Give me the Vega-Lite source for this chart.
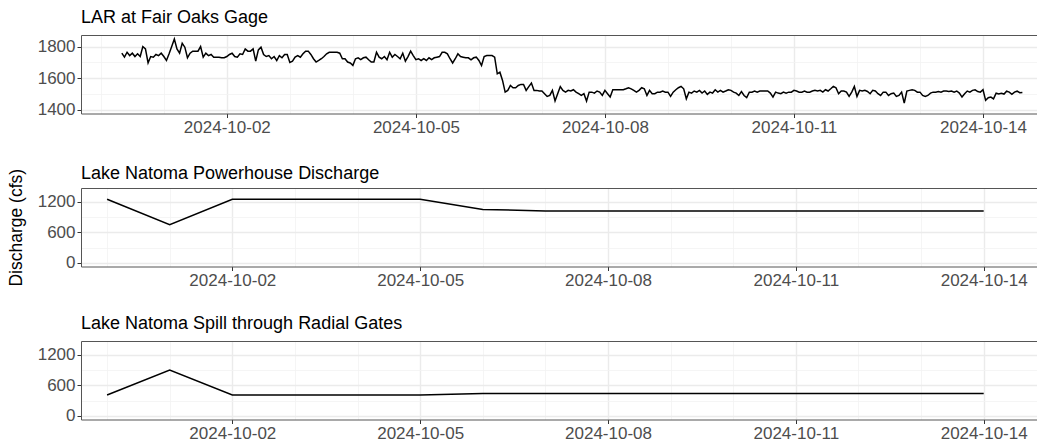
{
"$schema":"https://vega.github.io/schema/vega-lite/v6.json",
"background":"white",
"padding":{"left":7,"top":9,"right":0,"bottom":0},
"spacing":74,
"bounds":"flush",
"config":{
 "font":"Liberation Sans",
 "view":{"stroke":null},
 "axis":{"labelFont":"Liberation Sans","labelFontSize":17,"labelColor":"#4D4D4D","tickColor":"#333333","tickSize":4,"domainColor":"#555555","gridColor":"#EBEBEB","titleFont":"Liberation Sans","titleFontWeight":"normal","titleFontSize":17.5,"titleColor":"black","labelFlush":false,"labelOverlap":false},
 "title":{"anchor":"start","frame":"group","fontSize":18,"fontWeight":"normal","color":"black","font":"Liberation Sans","offset":8}
},
"datasets":{
"gage":[
{"t":"2024-09-30T08:00","v":1758},{"t":"2024-09-30T09:00","v":1733},{"t":"2024-09-30T10:00","v":1764},{"t":"2024-09-30T11:00","v":1743},{"t":"2024-09-30T12:00","v":1758},{"t":"2024-09-30T13:00","v":1737},{"t":"2024-09-30T14:00","v":1754},{"t":"2024-09-30T15:00","v":1737},{"t":"2024-09-30T16:00","v":1800},{"t":"2024-09-30T17:00","v":1785},{"t":"2024-09-30T18:00","v":1697},{"t":"2024-09-30T19:00","v":1737},{"t":"2024-09-30T20:00","v":1733},{"t":"2024-09-30T21:00","v":1750},{"t":"2024-09-30T22:00","v":1743},{"t":"2024-09-30T23:00","v":1758},
{"t":"2024-10-01T00:00","v":1737},{"t":"2024-10-01T01:00","v":1712},{"t":"2024-10-01T02:00","v":1754},{"t":"2024-10-01T03:00","v":1800},{"t":"2024-10-01T04:00","v":1848},{"t":"2024-10-01T05:00","v":1785},{"t":"2024-10-01T06:00","v":1758},{"t":"2024-10-01T07:00","v":1821},{"t":"2024-10-01T08:00","v":1796},{"t":"2024-10-01T09:00","v":1729},{"t":"2024-10-01T10:00","v":1758},{"t":"2024-10-01T11:00","v":1771},{"t":"2024-10-01T12:00","v":1771},{"t":"2024-10-01T13:00","v":1771},{"t":"2024-10-01T14:00","v":1800},{"t":"2024-10-01T15:00","v":1733},{"t":"2024-10-01T16:00","v":1758},{"t":"2024-10-01T17:00","v":1743},{"t":"2024-10-01T18:00","v":1750},{"t":"2024-10-01T19:00","v":1733},{"t":"2024-10-01T20:00","v":1733},{"t":"2024-10-01T21:00","v":1733},{"t":"2024-10-01T22:00","v":1729},{"t":"2024-10-01T23:00","v":1729},
{"t":"2024-10-02T00:00","v":1737},{"t":"2024-10-02T01:00","v":1750},{"t":"2024-10-02T02:00","v":1758},{"t":"2024-10-02T03:00","v":1737},{"t":"2024-10-02T04:00","v":1733},{"t":"2024-10-02T05:00","v":1754},{"t":"2024-10-02T06:00","v":1750},{"t":"2024-10-02T07:00","v":1785},{"t":"2024-10-02T08:00","v":1771},{"t":"2024-10-02T09:00","v":1771},{"t":"2024-10-02T10:00","v":1785},{"t":"2024-10-02T11:00","v":1708},{"t":"2024-10-02T12:00","v":1779},{"t":"2024-10-02T13:00","v":1796},{"t":"2024-10-02T14:00","v":1750},{"t":"2024-10-02T15:00","v":1737},{"t":"2024-10-02T16:00","v":1743},{"t":"2024-10-02T17:00","v":1723},{"t":"2024-10-02T18:00","v":1737},{"t":"2024-10-02T19:00","v":1712},{"t":"2024-10-02T20:00","v":1743},{"t":"2024-10-02T21:00","v":1729},{"t":"2024-10-02T22:00","v":1750},{"t":"2024-10-02T23:00","v":1750},
{"t":"2024-10-03T00:00","v":1700},{"t":"2024-10-03T01:00","v":1708},{"t":"2024-10-03T02:00","v":1733},{"t":"2024-10-03T03:00","v":1743},{"t":"2024-10-03T04:00","v":1733},{"t":"2024-10-03T05:00","v":1754},{"t":"2024-10-03T06:00","v":1771},{"t":"2024-10-03T07:00","v":1771},{"t":"2024-10-03T08:00","v":1750},{"t":"2024-10-03T09:00","v":1723},{"t":"2024-10-03T10:00","v":1702},{"t":"2024-10-03T11:00","v":1712},{"t":"2024-10-03T12:00","v":1723},{"t":"2024-10-03T13:00","v":1737},{"t":"2024-10-03T14:00","v":1754},{"t":"2024-10-03T15:00","v":1764},{"t":"2024-10-03T16:00","v":1764},{"t":"2024-10-03T17:00","v":1764},{"t":"2024-10-03T18:00","v":1764},{"t":"2024-10-03T19:00","v":1758},{"t":"2024-10-03T20:00","v":1723},{"t":"2024-10-03T21:00","v":1723},{"t":"2024-10-03T22:00","v":1702},{"t":"2024-10-03T23:00","v":1696},
{"t":"2024-10-04T00:00","v":1681},{"t":"2024-10-04T01:00","v":1723},{"t":"2024-10-04T02:00","v":1729},{"t":"2024-10-04T03:00","v":1717},{"t":"2024-10-04T04:00","v":1729},{"t":"2024-10-04T05:00","v":1733},{"t":"2024-10-04T06:00","v":1717},{"t":"2024-10-04T07:00","v":1702},{"t":"2024-10-04T08:00","v":1702},{"t":"2024-10-04T09:00","v":1764},{"t":"2024-10-04T10:00","v":1733},{"t":"2024-10-04T11:00","v":1723},{"t":"2024-10-04T12:00","v":1737},{"t":"2024-10-04T13:00","v":1717},{"t":"2024-10-04T14:00","v":1764},{"t":"2024-10-04T15:00","v":1733},{"t":"2024-10-04T16:00","v":1750},{"t":"2024-10-04T17:00","v":1737},{"t":"2024-10-04T18:00","v":1723},{"t":"2024-10-04T19:00","v":1758},{"t":"2024-10-04T20:00","v":1708},{"t":"2024-10-04T21:00","v":1737},{"t":"2024-10-04T22:00","v":1771},{"t":"2024-10-04T23:00","v":1743},
{"t":"2024-10-05T00:00","v":1717},{"t":"2024-10-05T01:00","v":1723},{"t":"2024-10-05T02:00","v":1712},{"t":"2024-10-05T03:00","v":1723},{"t":"2024-10-05T04:00","v":1712},{"t":"2024-10-05T05:00","v":1729},{"t":"2024-10-05T06:00","v":1717},{"t":"2024-10-05T07:00","v":1729},{"t":"2024-10-05T08:00","v":1733},{"t":"2024-10-05T09:00","v":1737},{"t":"2024-10-05T10:00","v":1764},{"t":"2024-10-05T11:00","v":1764},{"t":"2024-10-05T12:00","v":1754},{"t":"2024-10-05T13:00","v":1723},{"t":"2024-10-05T14:00","v":1696},{"t":"2024-10-05T15:00","v":1723},{"t":"2024-10-05T16:00","v":1754},{"t":"2024-10-05T17:00","v":1737},{"t":"2024-10-05T18:00","v":1733},{"t":"2024-10-05T19:00","v":1729},{"t":"2024-10-05T20:00","v":1729},{"t":"2024-10-05T21:00","v":1716},{"t":"2024-10-05T22:00","v":1729},{"t":"2024-10-05T23:00","v":1733},
{"t":"2024-10-06T00:00","v":1712},{"t":"2024-10-06T01:00","v":1680},{"t":"2024-10-06T02:00","v":1737},{"t":"2024-10-06T03:00","v":1743},{"t":"2024-10-06T04:00","v":1743},{"t":"2024-10-06T05:00","v":1743},{"t":"2024-10-06T06:00","v":1733},{"t":"2024-10-06T07:00","v":1628},{"t":"2024-10-06T08:00","v":1638},{"t":"2024-10-06T09:00","v":1586},{"t":"2024-10-06T10:00","v":1512},{"t":"2024-10-06T11:00","v":1523},{"t":"2024-10-06T12:00","v":1554},{"t":"2024-10-06T13:00","v":1540},{"t":"2024-10-06T14:00","v":1540},{"t":"2024-10-06T15:00","v":1554},{"t":"2024-10-06T16:00","v":1561},{"t":"2024-10-06T17:00","v":1561},{"t":"2024-10-06T18:00","v":1523},{"t":"2024-10-06T19:00","v":1547},{"t":"2024-10-06T20:00","v":1569},{"t":"2024-10-06T21:00","v":1523},{"t":"2024-10-06T22:00","v":1523},{"t":"2024-10-06T23:00","v":1519},
{"t":"2024-10-07T00:00","v":1519},{"t":"2024-10-07T01:00","v":1502},{"t":"2024-10-07T02:00","v":1485},{"t":"2024-10-07T03:00","v":1491},{"t":"2024-10-07T04:00","v":1523},{"t":"2024-10-07T05:00","v":1456},{"t":"2024-10-07T06:00","v":1502},{"t":"2024-10-07T07:00","v":1547},{"t":"2024-10-07T08:00","v":1523},{"t":"2024-10-07T09:00","v":1512},{"t":"2024-10-07T10:00","v":1523},{"t":"2024-10-07T11:00","v":1519},{"t":"2024-10-07T12:00","v":1527},{"t":"2024-10-07T13:00","v":1512},{"t":"2024-10-07T14:00","v":1502},{"t":"2024-10-07T15:00","v":1491},{"t":"2024-10-07T16:00","v":1502},{"t":"2024-10-07T17:00","v":1456},{"t":"2024-10-07T18:00","v":1512},{"t":"2024-10-07T19:00","v":1512},{"t":"2024-10-07T20:00","v":1506},{"t":"2024-10-07T21:00","v":1519},{"t":"2024-10-07T22:00","v":1512},{"t":"2024-10-07T23:00","v":1491},
{"t":"2024-10-08T00:00","v":1523},{"t":"2024-10-08T01:00","v":1502},{"t":"2024-10-08T02:00","v":1481},{"t":"2024-10-08T03:00","v":1527},{"t":"2024-10-08T04:00","v":1527},{"t":"2024-10-08T05:00","v":1527},{"t":"2024-10-08T06:00","v":1527},{"t":"2024-10-08T07:00","v":1527},{"t":"2024-10-08T08:00","v":1533},{"t":"2024-10-08T09:00","v":1540},{"t":"2024-10-08T10:00","v":1533},{"t":"2024-10-08T11:00","v":1523},{"t":"2024-10-08T12:00","v":1512},{"t":"2024-10-08T13:00","v":1523},{"t":"2024-10-08T14:00","v":1540},{"t":"2024-10-08T15:00","v":1533},{"t":"2024-10-08T16:00","v":1491},{"t":"2024-10-08T17:00","v":1523},{"t":"2024-10-08T18:00","v":1502},{"t":"2024-10-08T19:00","v":1502},{"t":"2024-10-08T20:00","v":1512},{"t":"2024-10-08T21:00","v":1512},{"t":"2024-10-08T22:00","v":1519},{"t":"2024-10-08T23:00","v":1512},
{"t":"2024-10-09T00:00","v":1512},{"t":"2024-10-09T01:00","v":1485},{"t":"2024-10-09T02:00","v":1512},{"t":"2024-10-09T03:00","v":1527},{"t":"2024-10-09T04:00","v":1540},{"t":"2024-10-09T05:00","v":1548},{"t":"2024-10-09T06:00","v":1533},{"t":"2024-10-09T07:00","v":1470},{"t":"2024-10-09T08:00","v":1512},{"t":"2024-10-09T09:00","v":1506},{"t":"2024-10-09T10:00","v":1519},{"t":"2024-10-09T11:00","v":1512},{"t":"2024-10-09T12:00","v":1523},{"t":"2024-10-09T13:00","v":1506},{"t":"2024-10-09T14:00","v":1519},{"t":"2024-10-09T15:00","v":1498},{"t":"2024-10-09T16:00","v":1512},{"t":"2024-10-09T17:00","v":1506},{"t":"2024-10-09T18:00","v":1527},{"t":"2024-10-09T19:00","v":1512},{"t":"2024-10-09T20:00","v":1523},{"t":"2024-10-09T21:00","v":1512},{"t":"2024-10-09T22:00","v":1519},{"t":"2024-10-09T23:00","v":1527},
{"t":"2024-10-10T00:00","v":1523},{"t":"2024-10-10T01:00","v":1512},{"t":"2024-10-10T02:00","v":1506},{"t":"2024-10-10T03:00","v":1491},{"t":"2024-10-10T04:00","v":1516},{"t":"2024-10-10T05:00","v":1491},{"t":"2024-10-10T06:00","v":1477},{"t":"2024-10-10T07:00","v":1512},{"t":"2024-10-10T08:00","v":1512},{"t":"2024-10-10T09:00","v":1519},{"t":"2024-10-10T10:00","v":1512},{"t":"2024-10-10T11:00","v":1519},{"t":"2024-10-10T12:00","v":1519},{"t":"2024-10-10T13:00","v":1519},{"t":"2024-10-10T14:00","v":1519},{"t":"2024-10-10T15:00","v":1506},{"t":"2024-10-10T16:00","v":1481},{"t":"2024-10-10T17:00","v":1512},{"t":"2024-10-10T18:00","v":1506},{"t":"2024-10-10T19:00","v":1502},{"t":"2024-10-10T20:00","v":1512},{"t":"2024-10-10T21:00","v":1506},{"t":"2024-10-10T22:00","v":1512},{"t":"2024-10-10T23:00","v":1512},
{"t":"2024-10-11T00:00","v":1523},{"t":"2024-10-11T01:00","v":1519},{"t":"2024-10-11T02:00","v":1512},{"t":"2024-10-11T03:00","v":1512},{"t":"2024-10-11T04:00","v":1519},{"t":"2024-10-11T05:00","v":1512},{"t":"2024-10-11T06:00","v":1512},{"t":"2024-10-11T07:00","v":1519},{"t":"2024-10-11T08:00","v":1523},{"t":"2024-10-11T09:00","v":1519},{"t":"2024-10-11T10:00","v":1523},{"t":"2024-10-11T11:00","v":1512},{"t":"2024-10-11T12:00","v":1527},{"t":"2024-10-11T13:00","v":1519},{"t":"2024-10-11T14:00","v":1533},{"t":"2024-10-11T15:00","v":1548},{"t":"2024-10-11T16:00","v":1540},{"t":"2024-10-11T17:00","v":1502},{"t":"2024-10-11T18:00","v":1519},{"t":"2024-10-11T19:00","v":1519},{"t":"2024-10-11T20:00","v":1512},{"t":"2024-10-11T21:00","v":1485},{"t":"2024-10-11T22:00","v":1512},{"t":"2024-10-11T23:00","v":1548},
{"t":"2024-10-12T00:00","v":1485},{"t":"2024-10-12T01:00","v":1523},{"t":"2024-10-12T02:00","v":1519},{"t":"2024-10-12T03:00","v":1523},{"t":"2024-10-12T04:00","v":1516},{"t":"2024-10-12T05:00","v":1502},{"t":"2024-10-12T06:00","v":1523},{"t":"2024-10-12T07:00","v":1519},{"t":"2024-10-12T08:00","v":1502},{"t":"2024-10-12T09:00","v":1491},{"t":"2024-10-12T10:00","v":1512},{"t":"2024-10-12T11:00","v":1512},{"t":"2024-10-12T12:00","v":1491},{"t":"2024-10-12T13:00","v":1502},{"t":"2024-10-12T14:00","v":1506},{"t":"2024-10-12T15:00","v":1485},{"t":"2024-10-12T16:00","v":1491},{"t":"2024-10-12T17:00","v":1512},{"t":"2024-10-12T18:00","v":1443},{"t":"2024-10-12T19:00","v":1519},{"t":"2024-10-12T20:00","v":1523},{"t":"2024-10-12T21:00","v":1527},{"t":"2024-10-12T22:00","v":1523},{"t":"2024-10-12T23:00","v":1512},
{"t":"2024-10-13T00:00","v":1512},{"t":"2024-10-13T01:00","v":1491},{"t":"2024-10-13T02:00","v":1485},{"t":"2024-10-13T03:00","v":1491},{"t":"2024-10-13T04:00","v":1506},{"t":"2024-10-13T05:00","v":1512},{"t":"2024-10-13T06:00","v":1512},{"t":"2024-10-13T07:00","v":1516},{"t":"2024-10-13T08:00","v":1512},{"t":"2024-10-13T09:00","v":1519},{"t":"2024-10-13T10:00","v":1519},{"t":"2024-10-13T11:00","v":1516},{"t":"2024-10-13T12:00","v":1519},{"t":"2024-10-13T13:00","v":1512},{"t":"2024-10-13T14:00","v":1519},{"t":"2024-10-13T15:00","v":1506},{"t":"2024-10-13T16:00","v":1481},{"t":"2024-10-13T17:00","v":1502},{"t":"2024-10-13T18:00","v":1519},{"t":"2024-10-13T19:00","v":1512},{"t":"2024-10-13T20:00","v":1523},{"t":"2024-10-13T21:00","v":1527},{"t":"2024-10-13T22:00","v":1516},{"t":"2024-10-13T23:00","v":1512},
{"t":"2024-10-14T00:00","v":1527},{"t":"2024-10-14T01:00","v":1460},{"t":"2024-10-14T02:00","v":1477},{"t":"2024-10-14T03:00","v":1481},{"t":"2024-10-14T04:00","v":1470},{"t":"2024-10-14T05:00","v":1505},{"t":"2024-10-14T06:00","v":1500},{"t":"2024-10-14T07:00","v":1505},{"t":"2024-10-14T08:00","v":1500},{"t":"2024-10-14T09:00","v":1518},{"t":"2024-10-14T10:00","v":1512},{"t":"2024-10-14T11:00","v":1498},{"t":"2024-10-14T12:00","v":1512},{"t":"2024-10-14T13:00","v":1518},{"t":"2024-10-14T14:00","v":1508},{"t":"2024-10-14T15:00","v":1510}
],
"flows":[
{"d":"2024-09-30T00:00","s":"PH","v":1250},{"d":"2024-10-01T00:00","s":"PH","v":750},{"d":"2024-10-02T00:00","s":"PH","v":1250},{"d":"2024-10-03T00:00","s":"PH","v":1250},{"d":"2024-10-04T00:00","s":"PH","v":1250},{"d":"2024-10-05T00:00","s":"PH","v":1250},{"d":"2024-10-06T00:00","s":"PH","v":1050},{"d":"2024-10-07T00:00","s":"PH","v":1020},{"d":"2024-10-08T00:00","s":"PH","v":1020},{"d":"2024-10-09T00:00","s":"PH","v":1020},{"d":"2024-10-10T00:00","s":"PH","v":1020},{"d":"2024-10-11T00:00","s":"PH","v":1020},{"d":"2024-10-12T00:00","s":"PH","v":1020},{"d":"2024-10-13T00:00","s":"PH","v":1020},{"d":"2024-10-14T00:00","s":"PH","v":1020},
{"d":"2024-09-30T00:00","s":"SP","v":410},{"d":"2024-10-01T00:00","s":"SP","v":900},{"d":"2024-10-02T00:00","s":"SP","v":410},{"d":"2024-10-03T00:00","s":"SP","v":410},{"d":"2024-10-04T00:00","s":"SP","v":410},{"d":"2024-10-05T00:00","s":"SP","v":410},{"d":"2024-10-06T00:00","s":"SP","v":440},{"d":"2024-10-07T00:00","s":"SP","v":440},{"d":"2024-10-08T00:00","s":"SP","v":440},{"d":"2024-10-09T00:00","s":"SP","v":440},{"d":"2024-10-10T00:00","s":"SP","v":440},{"d":"2024-10-11T00:00","s":"SP","v":440},{"d":"2024-10-12T00:00","s":"SP","v":440},{"d":"2024-10-13T00:00","s":"SP","v":440},{"d":"2024-10-14T00:00","s":"SP","v":440}
]
},
"vconcat":[
{
 "width":956,"height":78.5,
 "title":{"text":"LAR at Fair Oaks Gage"},
 "data":{"name":"gage"},
 "layer":[
  {"mark":{"type":"line","opacity":0},
   "encoding":{
    "x":{"field":"t","type":"temporal","scale":{"domain":[{"year":2024,"month":9,"date":29,"hours":16,"minutes":27},{"year":2024,"month":10,"date":14,"hours":20,"minutes":34}]},
     "axis":{"orient":"top","values":[{"year":2024,"month":9,"date":30},{"year":2024,"month":10,"date":1},{"year":2024,"month":10,"date":3},{"year":2024,"month":10,"date":4},{"year":2024,"month":10,"date":6},{"year":2024,"month":10,"date":7},{"year":2024,"month":10,"date":9},{"year":2024,"month":10,"date":10},{"year":2024,"month":10,"date":12},{"year":2024,"month":10,"date":13}],"labels":false,"ticks":false,"domain":true,"grid":true,"gridColor":"#F3F3F3","gridWidth":0.8,"title":null}},
    "y":{"field":"v","type":"quantitative","scale":{"domain":[1377,1873],"nice":false,"zero":false},
     "axis":{"orient":"right","values":[1500,1700],"labels":false,"ticks":false,"domain":false,"grid":true,"gridColor":"#F3F3F3","gridWidth":0.8,"title":null}}
   }},
  {"mark":{"type":"line","color":"black","strokeWidth":1.5},
   "encoding":{
    "x":{"field":"t","type":"temporal","scale":{"domain":[{"year":2024,"month":9,"date":29,"hours":16,"minutes":27},{"year":2024,"month":10,"date":14,"hours":20,"minutes":34}]},
     "axis":{"orient":"bottom","values":[{"year":2024,"month":10,"date":2},{"year":2024,"month":10,"date":5},{"year":2024,"month":10,"date":8},{"year":2024,"month":10,"date":11},{"year":2024,"month":10,"date":14}],"format":"%Y-%m-%d","grid":true,"gridWidth":1.4,"title":null}},
    "y":{"field":"v","type":"quantitative","scale":{"domain":[1377,1873],"nice":false,"zero":false},
     "axis":{"orient":"left","values":[1400,1600,1800],"format":"d","grid":true,"gridWidth":1.4,"title":null}}
   }}
 ],
 "resolve":{"axis":{"x":"independent","y":"independent"}}
},
{
 "width":956,"height":78.5,
 "title":{"text":"Lake Natoma Powerhouse Discharge","dy":23},
 "data":{"name":"flows"},
 "transform":[{"filter":"datum.s === 'PH'"}],
 "layer":[
  {"mark":{"type":"line","opacity":0},
   "encoding":{
    "x":{"field":"d","type":"temporal","scale":{"domain":[{"year":2024,"month":9,"date":29,"hours":14},{"year":2024,"month":10,"date":14,"hours":20,"minutes":26}]},
     "axis":{"orient":"top","values":[{"year":2024,"month":9,"date":30},{"year":2024,"month":10,"date":1},{"year":2024,"month":10,"date":3},{"year":2024,"month":10,"date":4},{"year":2024,"month":10,"date":6},{"year":2024,"month":10,"date":7},{"year":2024,"month":10,"date":9},{"year":2024,"month":10,"date":10},{"year":2024,"month":10,"date":12},{"year":2024,"month":10,"date":13}],"labels":false,"ticks":false,"domain":true,"grid":true,"gridColor":"#F3F3F3","gridWidth":0.8,"title":null}},
    "y":{"field":"v","type":"quantitative","scale":{"domain":[-70,1470],"nice":false,"zero":false},
     "axis":{"orient":"right","values":[300,900],"labels":false,"ticks":false,"domain":false,"grid":true,"gridColor":"#F3F3F3","gridWidth":0.8,"title":null}}
   }},
  {"mark":{"type":"line","color":"black","strokeWidth":1.5},
   "encoding":{
    "x":{"field":"d","type":"temporal","scale":{"domain":[{"year":2024,"month":9,"date":29,"hours":14},{"year":2024,"month":10,"date":14,"hours":20,"minutes":26}]},
     "axis":{"orient":"bottom","values":[{"year":2024,"month":10,"date":2},{"year":2024,"month":10,"date":5},{"year":2024,"month":10,"date":8},{"year":2024,"month":10,"date":11},{"year":2024,"month":10,"date":14}],"format":"%Y-%m-%d","grid":true,"gridWidth":1.4,"title":null}},
    "y":{"field":"v","type":"quantitative","scale":{"domain":[-70,1470],"nice":false,"zero":false},
     "axis":{"orient":"left","values":[0,600,1200],"format":"d","grid":true,"gridWidth":1.4,"title":"Discharge (cfs)","titlePadding":12}}
   }}
 ],
 "resolve":{"axis":{"x":"independent","y":"independent"}}
},
{
 "width":956,"height":78.5,
 "title":{"text":"Lake Natoma Spill through Radial Gates"},
 "data":{"name":"flows"},
 "transform":[{"filter":"datum.s === 'SP'"}],
 "layer":[
  {"mark":{"type":"line","opacity":0},
   "encoding":{
    "x":{"field":"d","type":"temporal","scale":{"domain":[{"year":2024,"month":9,"date":29,"hours":14},{"year":2024,"month":10,"date":14,"hours":20,"minutes":26}]},
     "axis":{"orient":"top","values":[{"year":2024,"month":9,"date":30},{"year":2024,"month":10,"date":1},{"year":2024,"month":10,"date":3},{"year":2024,"month":10,"date":4},{"year":2024,"month":10,"date":6},{"year":2024,"month":10,"date":7},{"year":2024,"month":10,"date":9},{"year":2024,"month":10,"date":10},{"year":2024,"month":10,"date":12},{"year":2024,"month":10,"date":13}],"labels":false,"ticks":false,"domain":true,"grid":true,"gridColor":"#F3F3F3","gridWidth":0.8,"title":null}},
    "y":{"field":"v","type":"quantitative","scale":{"domain":[-70,1470],"nice":false,"zero":false},
     "axis":{"orient":"right","values":[300,900],"labels":false,"ticks":false,"domain":false,"grid":true,"gridColor":"#F3F3F3","gridWidth":0.8,"title":null}}
   }},
  {"mark":{"type":"line","color":"black","strokeWidth":1.5},
   "encoding":{
    "x":{"field":"d","type":"temporal","scale":{"domain":[{"year":2024,"month":9,"date":29,"hours":14},{"year":2024,"month":10,"date":14,"hours":20,"minutes":26}]},
     "axis":{"orient":"bottom","values":[{"year":2024,"month":10,"date":2},{"year":2024,"month":10,"date":5},{"year":2024,"month":10,"date":8},{"year":2024,"month":10,"date":11},{"year":2024,"month":10,"date":14}],"format":"%Y-%m-%d","grid":true,"gridWidth":1.4,"title":null}},
    "y":{"field":"v","type":"quantitative","scale":{"domain":[-70,1470],"nice":false,"zero":false},
     "axis":{"orient":"left","values":[0,600,1200],"format":"d","grid":true,"gridWidth":1.4,"title":null}}
   }}
 ],
 "resolve":{"axis":{"x":"independent","y":"independent"}}
}
]
}
